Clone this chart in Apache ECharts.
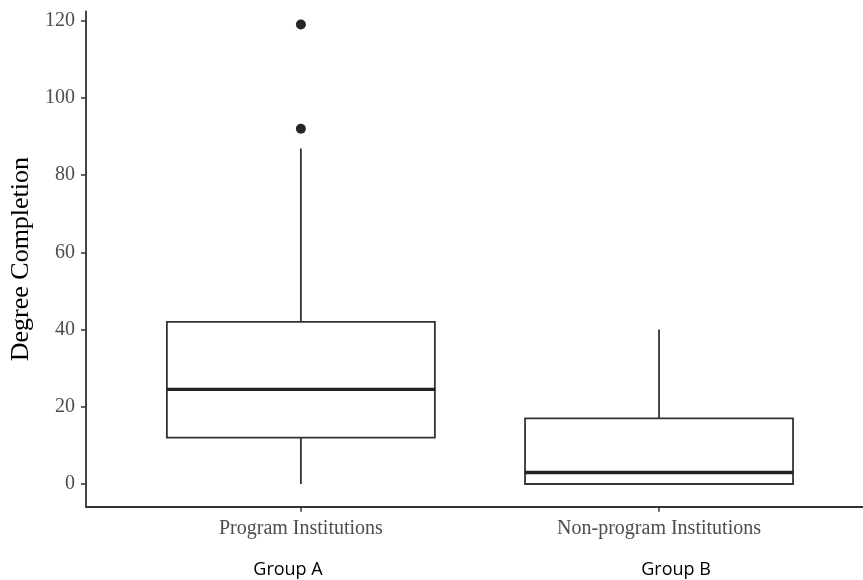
<!DOCTYPE html>
<html>
<head>
<meta charset="utf-8">
<script src="https://cdn.jsdelivr.net/npm/echarts@6/dist/echarts.min.js"></script>
<style>
html,body{margin:0;padding:0;background:#fff;}
#chart{width:863px;height:580px;}
</style>
</head>
<body>
<div id="chart"></div>
<script>
// ---- data ----
const categories = ['Program Institutions', 'Non-program Institutions'];
const groupLabels = ['Group A', 'Group B'];
const lowerWhisker = [0, 0];
const q1 = [12.0, 0];
const median = [24.5, 3.0];
const q3 = [42.0, 17.0];
const upperWhisker = [86.9, 40.0];
const outlierGroup = [0, 0];
const outlierValue = [119, 92];
const yTicks = [0, 20, 40, 60, 80, 100, 120];
const yTitle = 'Degree Completion';

// ---- styling ----
const boxHalf = 0.375;
const boxPx = 268;
const lineColor = '#333333';
const serif = '"Liberation Serif", "Times New Roman", serif';

const chart = echarts.init(document.getElementById('chart'), null, {renderer: 'canvas'});

const series = [];
series.push({
  type: 'boxplot',
  data: categories.map((c, i) => [i + 1, q1[i], q1[i], median[i], q3[i], q3[i]]),
  boxWidth: [boxPx, boxPx],
  itemStyle: {color: '#ffffff', borderColor: lineColor, borderWidth: 1.8},
  emphasis: {disabled: true},
  z: 3
});
categories.forEach((c, i) => {
  const x = i + 1;
  if (q1[i] > lowerWhisker[i]) {
    series.push({type: 'line', data: [[x, lowerWhisker[i]], [x, q1[i]]], showSymbol: false, symbol: 'none',
      lineStyle: {color: lineColor, width: 1.8}, silent: true, z: 2});
  }
  series.push({type: 'line', data: [[x, q3[i]], [x, upperWhisker[i]]], showSymbol: false, symbol: 'none',
    lineStyle: {color: lineColor, width: 1.8}, silent: true, z: 2});
  series.push({type: 'line', data: [[x - boxHalf, median[i]], [x + boxHalf, median[i]]], showSymbol: false, symbol: 'none',
    lineStyle: {color: '#222222', width: 3.4, cap: 'butt'}, silent: true, z: 4});
});
series.push({
  type: 'scatter',
  data: outlierValue.map((v, k) => [outlierGroup[k] + 1, v]),
  symbolSize: 10,
  itemStyle: {color: '#262626', opacity: 1},
  z: 5
});

const option = {
  animation: false,
  backgroundColor: '#ffffff',
  grid: {left: 85.2, right: 0, top: 11.4, bottom: 73.2, containLabel: false},
  xAxis: {
    type: 'value',
    min: 0.4, max: 2.5695,
    splitLine: {show: false},
    axisLine: {show: true, onZero: false, lineStyle: {color: lineColor, width: 1.8}},
    axisTick: {show: true, length: 5, customValues: categories.map((c, i) => i + 1), lineStyle: {color: lineColor, width: 1.5}},
    axisLabel: {
      customValues: categories.map((c, i) => i + 1),
      formatter: v => categories[Math.round(v) - 1] || '',
      fontFamily: serif, fontSize: 20, color: '#4d4d4d', margin: 12
    }
  },
  yAxis: {
    type: 'value',
    min: -5.9, max: 122.4,
    splitLine: {show: false},
    axisLine: {show: true, onZero: false, lineStyle: {color: lineColor, width: 1.8}},
    axisTick: {show: true, length: 5, customValues: yTicks, lineStyle: {color: lineColor, width: 1.5}},
    axisLabel: {customValues: yTicks, fontFamily: serif, fontSize: 20, color: '#4d4d4d', margin: 11},
    name: yTitle,
    nameLocation: 'middle',
    nameRotate: 90,
    nameGap: 52,
    nameTextStyle: {fontFamily: serif, fontSize: 26, color: '#000000'}
  },
  graphic: groupLabels.map((g, i) => ({
    type: 'text',
    x: [288, 676][i],
    y: 570,
    style: {text: g, textAlign: 'center', textVerticalAlign: 'middle', font: '18px "Open Sans", sans-serif', fill: '#000000'}
  })),
  series: series
};
chart.setOption(option);
</script>
</body>
</html>
